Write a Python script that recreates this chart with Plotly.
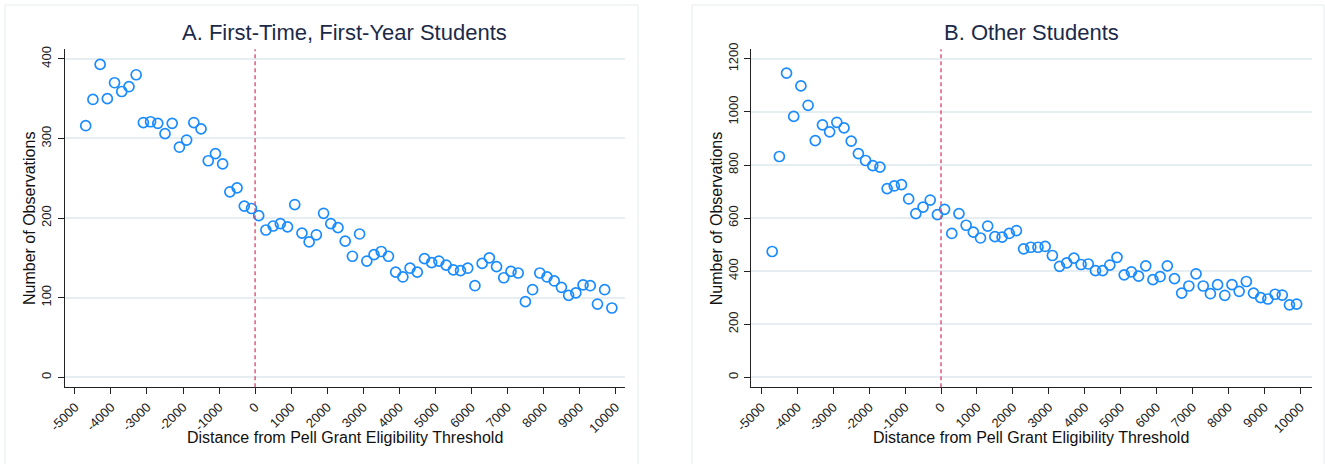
import plotly.graph_objects as go

# Bin midpoints: distance from the Pell Grant eligibility threshold ($200 bins)
bin_centers = [-4700 + 200 * i for i in range(74)]

# Panel A: first-time, first-year students (counts per bin)
first_year_counts = [
    316, 349, 393, 350, 370, 359, 365, 380, 320, 321, 319, 306, 319, 289, 298, 320,
    312, 272, 281, 268, 233, 238, 215, 212, 203, 185, 190, 193, 189, 217, 181, 170,
    179, 206, 193, 188, 171, 152, 180, 146, 154, 158, 152, 132, 126, 137, 132, 149,
    144, 146, 141, 135, 134, 137, 115, 143, 150, 139, 125, 133, 131, 95, 110, 131,
    126, 121, 113, 103, 106, 116, 115, 92, 110, 87,
]

# Panel B: other students (counts per bin)
other_counts = [
    474, 832, 1146, 983, 1098, 1025, 892, 951, 925, 961, 940, 890, 843, 817, 798, 792,
    711, 721, 726, 672, 617, 641, 668, 613, 633, 542, 617, 573, 547, 525, 570, 530,
    528, 542, 553, 484, 490, 490, 493, 459, 418, 431, 449, 425, 427, 402, 402, 423,
    452, 386, 397, 381, 420, 368, 379, 420, 372, 317, 344, 390, 344, 315, 349, 309,
    349, 324, 361, 317, 300, 295, 313, 310, 273, 276,
]

x_tick_vals = list(range(-5000, 10001, 1000))
x_tick_text = [str(v) for v in x_tick_vals]
y_ticks_a = [0, 100, 200, 300, 400]
y_ticks_b = [0, 200, 400, 600, 800, 1000, 1200]

titles = ["A. First-Time, First-Year Students", "B. Other Students"]
x_title = "Distance from Pell Grant Eligibility Threshold"
y_title = "Number of Observations"

W, H = 1325, 464
FONT = "Liberation Sans, Arial, sans-serif"
MARKER_BLUE = "#1a8cff"
CUTOFF_RED = "#d8436b"
GRID = "#e6eef1"
TITLE_NAVY = "#1c2a4a"


def px_x(p):
    return p / W


def px_y(p):
    return 1 - p / H


# Plot-area placement (pixels)
panels = [
    dict(x0=64.7, x1=625.0, xr=[-5283, 10264], yr=[-12.6, 412], yt=y_ticks_a, y=first_year_counts),
    dict(x0=750.9, x1=1312.0, xr=[-5292, 10328], yr=[-37.7, 1236], yt=y_ticks_b, y=other_counts),
]
plot_top, plot_bottom = 49.3, 387.3

fig = go.Figure()
shapes = []
annotations = []

for i, p in enumerate(panels):
    sfx = "" if i == 0 else str(i + 1)
    xa, ya = "x" + sfx, "y" + sfx
    fig.add_trace(go.Scatter(
        x=bin_centers, y=p["y"], mode="markers", xaxis=xa, yaxis=ya,
        marker=dict(symbol="circle-open", size=10, color=MARKER_BLUE,
                    line=dict(width=1.7, color=MARKER_BLUE)),
        showlegend=False, hoverinfo="x+y",
    ))
    axis_common = dict(
        showline=True, linecolor="#222", linewidth=1.3,
        ticks="outside", ticklen=6, tickwidth=1.2, tickcolor="#222",
        tickfont=dict(family=FONT, size=13, color="#222"),
        zeroline=False, automargin=False,
    )
    fig.update_layout({
        "xaxis" + sfx: dict(
            domain=[px_x(p["x0"]), px_x(p["x1"])], range=p["xr"], anchor=ya,
            tickvals=x_tick_vals, ticktext=x_tick_text, tickangle=-45,
            showgrid=False, **axis_common,
        ),
        "yaxis" + sfx: dict(
            domain=[px_y(plot_bottom), px_y(plot_top)], range=p["yr"], anchor=xa,
            tickvals=p["yt"], ticktext=[str(v) for v in p["yt"]], tickangle=-90,
            showgrid=True, gridcolor=GRID, gridwidth=1.5, ticklabelstandoff=1,
            **axis_common,
        ),
    })
    # threshold marker at zero distance
    shapes.append(dict(
        type="line", xref=xa, yref=ya + " domain", x0=0, x1=0, y0=0, y1=1,
        line=dict(color=CUTOFF_RED, width=1.3, dash="4px,3px"), layer="above",
    ))
    # panel frame
    frame_x0, frame_x1 = (5, 638) if i == 0 else (692, 1324)
    shapes.append(dict(
        type="rect", xref="paper", yref="paper",
        x0=px_x(frame_x0), x1=px_x(frame_x1), y0=-0.05, y1=px_y(5),
        line=dict(color="#e4ecee", width=1), fillcolor="rgba(0,0,0,0)", layer="below",
    ))
    cx = (p["x0"] + p["x1"]) / 2
    annotations.append(dict(
        text=titles[i], xref="paper", yref="paper", x=px_x(cx), y=px_y(32),
        xanchor="center", yanchor="middle", showarrow=False,
        font=dict(family=FONT, size=22, color=TITLE_NAVY),
    ))
    annotations.append(dict(
        text=x_title, xref="paper", yref="paper", x=px_x(cx), y=px_y(437),
        xanchor="center", yanchor="middle", showarrow=False,
        font=dict(family=FONT, size=16, color="#111"),
    ))
    annotations.append(dict(
        text=y_title, xref="paper", yref="paper",
        x=px_x(p["x0"] - 35), y=px_y((plot_top + plot_bottom) / 2),
        xanchor="center", yanchor="middle", showarrow=False, textangle=-90,
        font=dict(family=FONT, size=16, color="#111"),
    ))

fig.update_layout(
    template="none",
    width=W, height=H, autosize=False,
    margin=dict(l=0, r=0, t=0, b=0, pad=0, autoexpand=False),
    paper_bgcolor="white", plot_bgcolor="white",
    shapes=shapes, annotations=annotations,
    font=dict(family=FONT),
)

fig.write_html("out.html")
